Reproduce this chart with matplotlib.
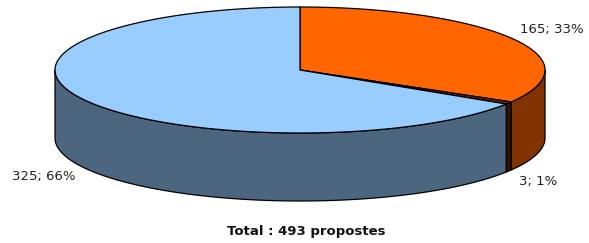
import numpy as np
import matplotlib
matplotlib.use("Agg")
import matplotlib.pyplot as plt
from matplotlib.patches import Polygon

# Data
categories = ["A", "B", "C"]
values = [165, 3, 325]
top_colors = ["#FF6600", "#6B2E00", "#99CCFF"]
side_colors = ["#803300", "#2E1400", "#4D6680"]
total_label = "Total : 493 propostes"

# Geometry (pixels)
W, H = 589, 243
cx, cy = 300, 70
a, b = 245, 63
depth = 68

fig = plt.figure(figsize=(W / 100, H / 100), dpi=100)
ax = fig.add_axes([0, 0, 1, 1])
ax.set_xlim(0, W)
ax.set_ylim(H, 0)
ax.axis("off")

def pt(theta_deg, dz=0.0):
    t = np.radians(theta_deg)
    return cx + a * np.sin(t), cy - b * np.cos(t) + dz

total = sum(values)
bounds = np.concatenate([[0], np.cumsum(values) / total * 360.0])

# Side faces (visible front part: 90..270 deg)
for i, v in enumerate(values):
    t0, t1 = bounds[i], bounds[i + 1]
    s0, s1 = max(t0, 90), min(t1, 270)
    if s1 <= s0:
        continue
    ts = np.linspace(s0, s1, 200)
    top = np.array([pt(t) for t in ts])
    bot = np.array([pt(t, depth) for t in ts[::-1]])
    poly = np.vstack([top, bot])
    ax.add_patch(Polygon(poly, closed=True, facecolor=side_colors[i],
                         edgecolor="black", linewidth=0.9, joinstyle="round"))

# Top faces
for i, v in enumerate(values):
    t0, t1 = bounds[i], bounds[i + 1]
    ts = np.linspace(t0, t1, 300)
    arc = np.array([pt(t) for t in ts])
    poly = np.vstack([[cx, cy], arc])
    ax.add_patch(Polygon(poly, closed=True, facecolor=top_colors[i],
                         edgecolor="black", linewidth=0.9, joinstyle="round"))

# Labels
labels = [f"{v}; {round(v / total * 100)}%" for v in values]
label_pos = [(552, 29), (538, 181), (44, 176)]
for lab, (x, y) in zip(labels, label_pos):
    ax.text(x, y, lab, ha="center", va="center", fontsize=9.5,
            family="DejaVu Sans", color="#222222")

ax.text(306, 231, total_label, ha="center", va="center", fontsize=9.5,
        fontweight="bold", family="DejaVu Sans", color="#111111")

fig.savefig("out.png", dpi=100)
